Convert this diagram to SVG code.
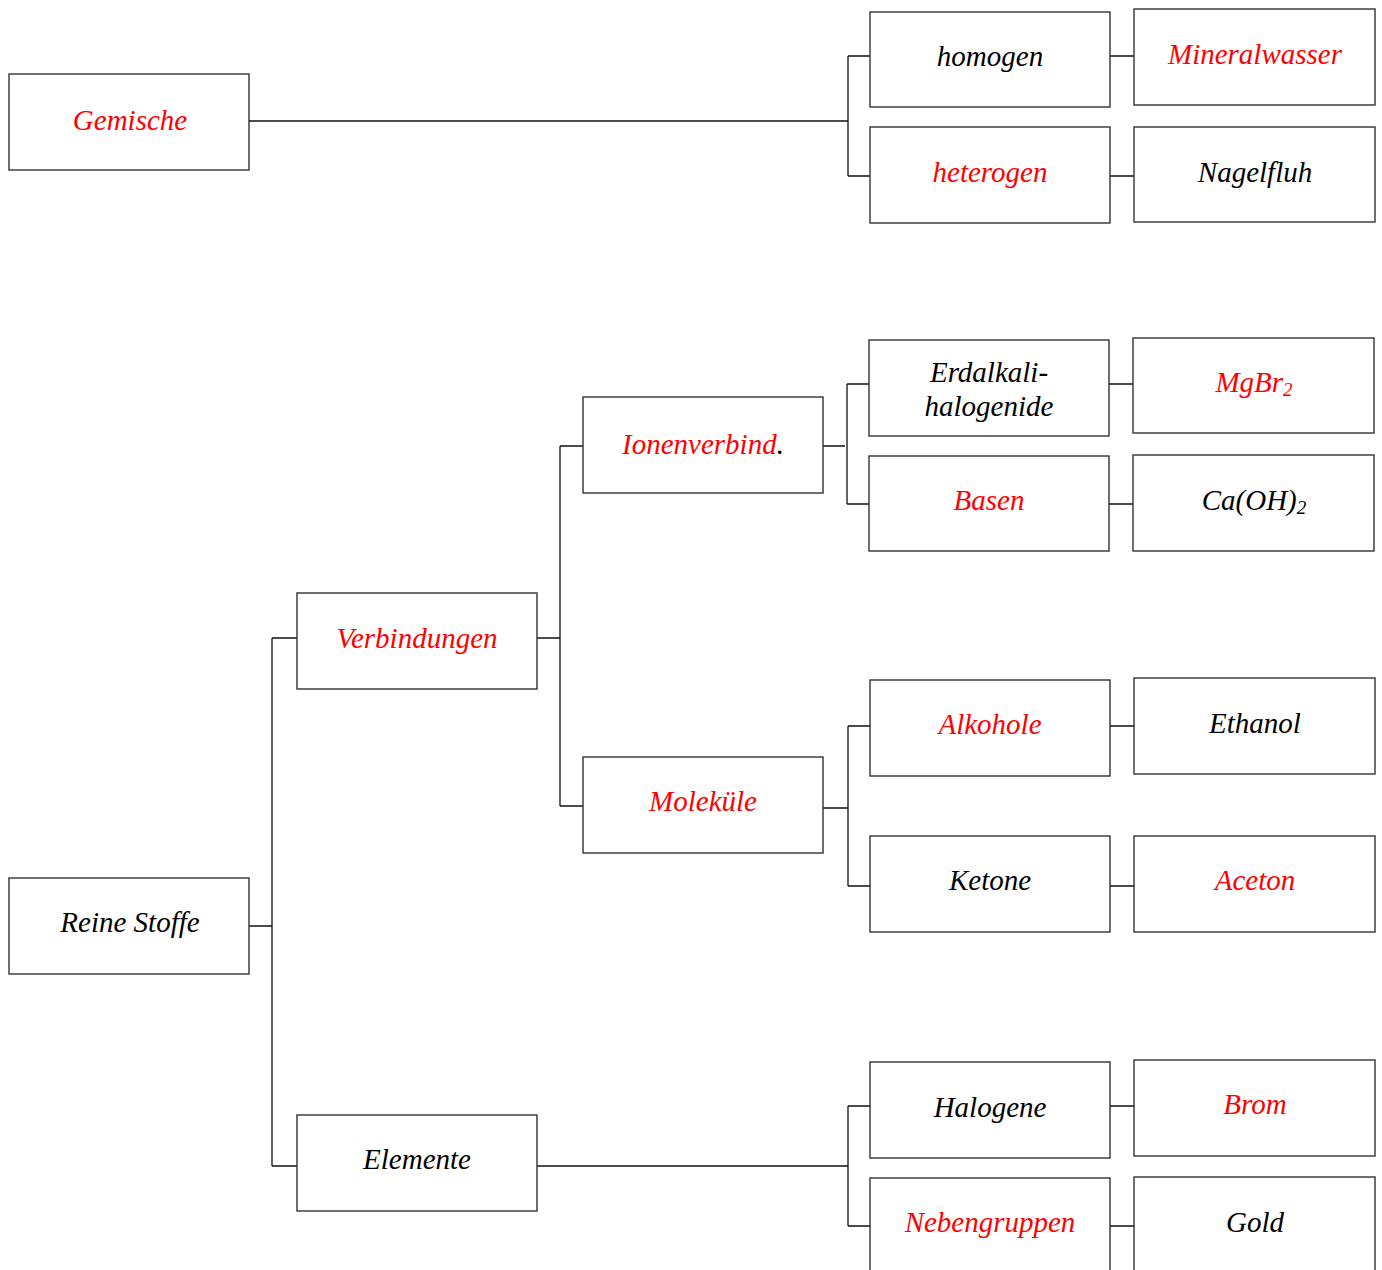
<svg xmlns="http://www.w3.org/2000/svg" width="1382" height="1270" viewBox="0 0 1382 1270">
<style>
rect.n{fill:#fff;stroke:#333;stroke-width:1.4}
text{font-family:"Liberation Serif","Times New Roman",serif;font-style:italic;font-size:29px;text-anchor:middle}
.r{fill:#ff0000}
.k{fill:#000}
#connectors path{fill:none;stroke:#111;stroke-width:1.3}
</style>
<rect width="1382" height="1270" fill="#fff"/>
<g id="connectors">
<path d="M249 121H848M848 56V176M848 56H870M848 176H870"/>
<path d="M1110 56H1134M1110 176H1134"/>
<path d="M823 446H845M847 384V504M847 384H869M847 504H869"/>
<path d="M1109 384H1133M1109 504H1133"/>
<path d="M249 926H272M272 638V1166M272 638H297M272 1166H297"/>
<path d="M537 638H560M560 446V806M560 446H583M560 806H583"/>
<path d="M823 808H848M848 726V886M848 726H870M848 886H870"/>
<path d="M1110 726H1137M1110 886H1134"/>
<path d="M537 1166H848M848 1106V1226M848 1106H870M848 1226H870"/>
<path d="M1110 1106H1134M1110 1226H1134"/>
</g>
<g id="gemische"><rect class="n" x="9" y="74" width="240" height="96"/><text class="r" x="130" y="130">Gemische</text></g>
<g id="homogen"><rect class="n" x="870" y="12" width="240" height="95"/><text class="k" x="990" y="66">homogen</text></g>
<g id="mineralwasser"><rect class="n" x="1134" y="9" width="241" height="96"/><text class="r" x="1255" y="64">Mineralwasser</text></g>
<g id="heterogen"><rect class="n" x="870" y="127" width="240" height="96"/><text class="r" x="990" y="182">heterogen</text></g>
<g id="nagelfluh"><rect class="n" x="1134" y="127" width="241" height="95"/><text class="k" x="1255" y="182">Nagelfluh</text></g>
<g id="ionenverbind"><rect class="n" x="583" y="397" width="240" height="96"/><text x="703" y="454"><tspan class="r">Ionenverbind</tspan><tspan class="k">.</tspan></text></g>
<g id="erdalkalihalogenide"><rect class="n" x="869" y="340" width="240" height="96"/><text class="k" x="989" y="382">Erdalkali-</text><text class="k" x="989" y="416">halogenide</text></g>
<g id="mgbr2"><rect class="n" x="1133" y="338" width="241" height="95"/><text class="r" x="1254" y="392">MgBr<tspan font-size="19" dy="4">2</tspan></text></g>
<g id="basen"><rect class="n" x="869" y="456" width="240" height="95"/><text class="r" x="989" y="510">Basen</text></g>
<g id="caoh2"><rect class="n" x="1133" y="455" width="241" height="96"/><text class="k" x="1254" y="510">Ca(OH)<tspan font-size="19" dy="4">2</tspan></text></g>
<g id="verbindungen"><rect class="n" x="297" y="593" width="240" height="96"/><text class="r" x="417" y="648">Verbindungen</text></g>
<g id="molekuele"><rect class="n" x="583" y="757" width="240" height="96"/><text class="r" x="703" y="811">Moleküle</text></g>
<g id="alkohole"><rect class="n" x="870" y="680" width="240" height="96"/><text class="r" x="990" y="734">Alkohole</text></g>
<g id="ethanol"><rect class="n" x="1134" y="678" width="241" height="96"/><text class="k" x="1255" y="733">Ethanol</text></g>
<g id="ketone"><rect class="n" x="870" y="836" width="240" height="96"/><text class="k" x="990" y="890">Ketone</text></g>
<g id="aceton"><rect class="n" x="1134" y="836" width="241" height="96"/><text class="r" x="1255" y="890">Aceton</text></g>
<g id="reinestoffe"><rect class="n" x="9" y="878" width="240" height="96"/><text class="k" x="130" y="932">Reine Stoffe</text></g>
<g id="elemente"><rect class="n" x="297" y="1115" width="240" height="96"/><text class="k" x="417" y="1169">Elemente</text></g>
<g id="halogene"><rect class="n" x="870" y="1062" width="240" height="96"/><text class="k" x="990" y="1117">Halogene</text></g>
<g id="brom"><rect class="n" x="1134" y="1060" width="241" height="96"/><text class="r" x="1255" y="1114">Brom</text></g>
<g id="nebengruppen"><rect class="n" x="870" y="1178" width="240" height="96"/><text class="r" x="990" y="1232">Nebengruppen</text></g>
<g id="gold"><rect class="n" x="1134" y="1177" width="241" height="96"/><text class="k" x="1255" y="1232">Gold</text></g>
</svg>
